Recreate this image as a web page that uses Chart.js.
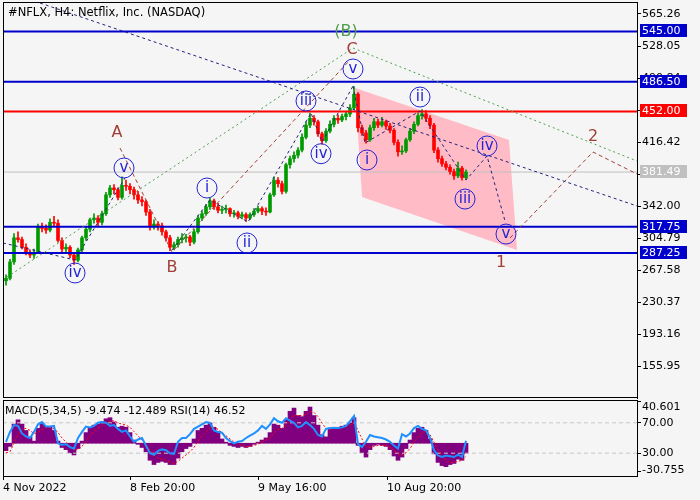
<!DOCTYPE html>
<html>
<head>
<meta charset="utf-8">
<script src="https://cdn.jsdelivr.net/npm/chart.js@4.4.0/dist/chart.umd.min.js"></script>
<style>
  body { margin: 0; background: #F5F5F5; }
  #wrap { position: relative; width: 700px; height: 500px; background: #F5F5F5; }
  canvas { position: absolute; left: 0; }
</style>
</head>
<body>
<div id="wrap">
  <canvas id="priceChart" width="700" height="400" style="top:0px"></canvas>
  <canvas id="macdChart" width="700" height="100" style="top:400px"></canvas>
</div>
<script>
const opens = [255,258,277,305,303,294,287,285,288,318,316,314,323,322,302,292,294,285,279,291,
  305,315,326,328,323,333,355,363,361,352,366,365,361,355,349,347,335,318,321,319,
  312,305,294,297,303,305,306,300,312,328,333,341,348,341,337,338,339,333,334,330,
  332,328,332,336,339,336,335,355,372,368,359,390,397,401,407,422,436,444,440,426,
  418,429,437,444,442,446,449,456,472,433,427,419,433,440,436,440,435,430,416,405,
  406,419,429,437,447,449,444,436,407,397,391,387,382,377,386,375];
const highs = [262,280,310,312,306,298,291,292,321,322,320,327,330,326,305,298,296,288,293,307,
  318,328,333,331,336,358,366,367,363,376,372,368,364,359,353,349,338,326,324,322,
  314,308,300,306,310,309,308,315,331,336,344,351,350,345,342,343,340,337,336,335,
  334,334,339,342,341,340,357,376,375,371,392,400,405,410,426,440,450,447,442,428,
  432,441,447,448,449,452,460,481,474,436,430,436,444,443,445,442,438,432,419,412,
  421,432,440,450,454,453,447,438,410,400,394,390,385,393,388,384];
const lows = [250,256,274,300,292,285,282,281,287,312,310,312,318,300,289,288,282,274,277,288,
  302,312,322,319,320,331,352,356,349,350,360,356,350,345,342,331,314,315,314,308,
  301,290,291,294,299,300,296,298,310,325,331,338,338,334,333,334,330,329,327,327,
  324,326,330,334,332,331,334,353,364,356,357,386,393,398,405,420,433,436,423,414,
  416,427,434,438,440,442,446,454,428,424,415,417,430,433,434,431,427,413,400,402,
  404,417,426,435,443,440,432,404,393,388,384,379,373,375,372,373];
const closes = [258,277,305,303,294,287,285,288,318,316,314,323,322,302,292,294,285,279,291,305,
  315,326,328,323,333,355,363,361,352,366,365,361,355,349,347,335,318,321,319,312,
  305,294,297,303,305,306,300,312,328,333,341,348,341,337,338,339,333,334,330,332,
  328,332,336,339,336,335,355,372,368,359,390,397,401,407,422,436,444,440,426,418,
  429,437,444,442,446,449,456,472,433,427,419,433,440,436,440,435,430,416,405,406,
  419,429,437,447,449,444,436,407,397,391,387,382,377,386,375,381.49];

// indicator window: MACD(5,34,5) main + signal, RSI(14)
const macdMain = [-7,-3,18,22,18,12,6,2,14,19,16,15,12,2,-4,-6,-9,-11,-5,2,
  10,15,17,18,20,23,24,20,15,16,15,10,3,-1,-4,-8,-16,-20,-18,-17,
  -18,-20,-20,-14,-8,-5,-3,4,12,14,17,19,15,11,4,1,-2,-3,-4,-3,
  -4,-3,-1,1,3,5,10,18,17,14,22,30,33,26,25,30,34,26,17,8,
  6,13,15,15,16,17,19,24,-2,-9,-13,-6,-2,-1,-2,-3,-6,-12,-16,-13,
  -5,3,10,14,15,12,4,-10,-18,-21,-22,-20,-19,-15,-16,-9.474];
const macdSignal = [-9,-8,0,8,13,14,12,9,10,13,15,15,14,10,5,1,-3,-6,-6,-3,
  2,7,11,14,16,19,21,21,19,18,17,15,11,7,3,-1,-6,-11,-14,-15,
  -16,-18,-19,-17,-14,-11,-8,-4,2,7,11,14,15,13,10,7,4,1,-1,-2,
  -3,-3,-2,-1,1,3,5,10,13,14,17,22,26,26,26,27,30,29,25,19,
  14,13,14,14,15,16,17,20,12,4,-3,-4,-3,-2,-2,-2,-4,-7,-10,-11,
  -9,-5,1,6,10,11,8,1,-6,-12,-16,-18,-18,-17,-16,-12.489];
const rsiValues = [45,58,67,66,56,52,50,58,68,71,65,65,66,43,41,42,38,36,50,58,
  65,64,66,70,71,70,66,67,62,58,60,52,45,48,50,40,30,28,33,35,
  34,30,29,45,50,50,55,62,65,68,71,70,60,58,57,50,46,43,45,46,
  50,53,56,60,66,62,68,76,72,70,76,73,70,64,66,71,67,62,54,52,
  62,63,63,63,64,66,72,79,42,38,45,54,52,51,50,48,45,40,36,55,
  52,56,63,66,62,60,50,34,27,25,27,26,25,28,25,46.52];

// right axis
const priceTicks = [565.26, 528.05, 490.84, 453.63, 416.42, 379.21, 342.00, 304.79, 267.58, 230.37, 193.16, 155.95];
const supportLevels = [545.00, 486.50, 317.75, 287.25];
const resistanceLevel = 452.00;
const bidPrice = 381.49;
const macdTopTick = 40.601;
const macdBottomTick = -30.755;
const rsiTicks = [70, 30];

// time axis (bar numbers)
const dateTicks = [-0.75, 31, 63, 95.25];
const dateLabels = ["4 Nov 2022", "8 Feb 20:00", "9 May 16:00", "10 Aug 20:00"];

// drawn objects, points as [bar, price]
const trendNavy = [[8.5, 578.05], [157.75, 342.0]];
const trendGreen = [[0.25, 259.4], [86.75, 525.7], [157.75, 394.3]];
const waveABC = [[28.5, 409.4], [41.5, 288.5], [86, 511.8]];
const waveImpulse1 = [[-0.75, 299.0], [17.25, 279.2], [29.75, 374.6]];
const waveImpulse2 = [[41.5, 290.8], [51, 349.0], [60.5, 323.4], [76.25, 450.1], [79, 416.4], [86.75, 481.5]];
const waveDecline = [[86.75, 481.5], [89.75, 415.2], [103.5, 452.5], [115, 372.2], [120.25, 400.1], [124.75, 324.6]];
const waveForecast = [[126, 304.8], [146.75, 404.8], [157.75, 379.2]];
const channel = [[87.25, 479.2], [125.75, 418.7], [127.75, 290.8], [89, 352.5]];

const circleLabels = ["iv", "v", "i", "ii", "iii", "iv", "v", "i", "ii", "iii", "iv", "v"];
const circleBars = [17.25, 29.5, 50.25, 60.25, 75, 78.75, 86.75, 90.25, 103.5, 114.75, 120.25, 125];
const circlePrices = [264.1, 386.2, 362.9, 299.0, 464.1, 402.8, 501.3, 395.5, 468.7, 350.1, 411.8, 309.4];
const letterLabels = ["A", "B", "C", "1", "2"];
const letterBars = [27.75, 41.5, 86.5, 123.75, 146.75];
const letterPrices = [426.9, 269.9, 523.4, 275.7, 422.2];
const degreeLabel = "(B)";
const degreeBar = 85;
const degreePrice = 544.3;

const X_MIN = -0.75, X_MAX = 157.75;
const FONT = "DejaVu Sans";
const BLUE = "#0000CD", RED = "#FF0000", NAVY = "#23237A", BROWN = "#A04038", GREEN = "#4E9E4E";
const BULL = "#009A00", BEAR = "#FF0000";

Chart.defaults.font.family = FONT;
Chart.defaults.font.size = 11;
Chart.defaults.color = "#000";

function toPoints(list) {
  return list.map(p => ({ x: p[0], y: p[1] }));
}

function polyline(list, color, dash, width) {
  return {
    type: "line", data: toPoints(list), borderColor: color, borderWidth: width || 1,
    borderDash: dash, pointRadius: 0, fill: false, tension: 0, order: 2
  };
}

function hLine(price, color, width, order) {
  return {
    type: "line", data: [{ x: X_MIN, y: price }, { x: X_MAX, y: price }],
    borderColor: color, borderWidth: width, pointRadius: 0, fill: false, order: order
  };
}

// no extra room for the first and last labels
function noPadding(s) {
  s.paddingTop = 0; s.paddingBottom = 0; s.paddingLeft = 0; s.paddingRight = 0;
}

const candleColors = closes.map((c, i) => c >= opens[i] ? BULL : BEAR);

const priceDatasets = [
  polyline(trendNavy, NAVY, [3, 3]),
  polyline(trendGreen, GREEN, [2, 3]),
  polyline(waveABC, BROWN, [4, 3]),
  polyline(waveImpulse1, NAVY, [3, 3]),
  polyline(waveImpulse2, NAVY, [3, 3]),
  polyline(waveDecline, NAVY, [3, 3]),
  polyline(waveForecast, BROWN, [4, 3]),
  hLine(resistanceLevel, RED, 2, 3),
  hLine(bidPrice, "#C0C0C0", 1, 6),
  {
    type: "bar", grouped: false, order: 5, barThickness: 3,
    data: closes.map((c, i) => ({ x: i, y: [opens[i], c] })),
    backgroundColor: candleColors
  },
  {
    type: "bar", grouped: false, order: 5, barThickness: 1,
    data: closes.map((c, i) => ({ x: i, y: [lows[i], highs[i]] })),
    backgroundColor: candleColors
  }
];
supportLevels.forEach(p => priceDatasets.push(hLine(p, BLUE, 2, 3)));

const pricePlugin = {
  id: "pricePlugin",
  beforeDatasetsDraw(chart) {
    const { ctx, scales: { x, y } } = chart;
    ctx.save();
    ctx.beginPath();
    channel.forEach((p, i) => {
      const px = x.getPixelForValue(p[0]), py = y.getPixelForValue(p[1]);
      if (i === 0) ctx.moveTo(px, py); else ctx.lineTo(px, py);
    });
    ctx.closePath();
    ctx.fillStyle = "#FFBBC6";
    ctx.fill();
    ctx.restore();
  },
  afterDatasetsDraw(chart) {
    const { ctx, scales: { x, y } } = chart;
    ctx.save();
    ctx.textAlign = "center";
    ctx.textBaseline = "middle";
    // circled sub-waves
    circleLabels.forEach((t, i) => {
      const px = x.getPixelForValue(circleBars[i]), py = y.getPixelForValue(circlePrices[i]);
      ctx.beginPath();
      ctx.arc(px, py, 10, 0, Math.PI * 2);
      ctx.strokeStyle = "#2424D4";
      ctx.lineWidth = 1;
      ctx.stroke();
      ctx.fillStyle = "#2424D4";
      ctx.font = "15px " + FONT;
      ctx.fillText(t, px, py);
    });
    ctx.font = "16px " + FONT;
    ctx.fillStyle = BROWN;
    letterLabels.forEach((t, i) => {
      ctx.fillText(t, x.getPixelForValue(letterBars[i]), y.getPixelForValue(letterPrices[i]));
    });
    ctx.fillStyle = GREEN;
    ctx.fillText(degreeLabel, x.getPixelForValue(degreeBar), y.getPixelForValue(degreePrice));
    ctx.restore();
  },
  afterDraw(chart) {
    const { ctx, chartArea: a, scales: { y } } = chart;
    ctx.save();
    ctx.strokeStyle = "#000";
    ctx.lineWidth = 1;
    ctx.strokeRect(a.left + 0.5, a.top - 0.5, a.right - a.left, a.bottom - a.top);
    ctx.font = "11px " + FONT;
    ctx.textAlign = "left";
    ctx.textBaseline = "middle";
    const boxes = supportLevels.map(p => [p, BLUE]).concat([[resistanceLevel, RED], [bidPrice, "#C0C0C0"]]);
    boxes.forEach(b => {
      const py = Math.round(y.getPixelForValue(b[0]));
      ctx.fillStyle = b[1];
      ctx.fillRect(a.right + 3, py - 7, 47, 13);
      ctx.fillStyle = "#fff";
      ctx.fillText(b[0].toFixed(2), a.right + 5, py);
    });
    ctx.fillStyle = "#000";
    ctx.font = "11.5px " + FONT;
    ctx.fillText("#NFLX, H4: Netflix, Inc. (NASDAQ)", 8, 13);
    ctx.restore();
  }
};

new Chart(document.getElementById("priceChart"), {
  type: "line",
  data: { datasets: priceDatasets },
  options: {
    responsive: false, animation: false, devicePixelRatio: 1,
    layout: { padding: { left: 3, top: 3, right: 0, bottom: 2 } },
    plugins: { legend: { display: false }, tooltip: { enabled: false } },
    scales: {
      x: { type: "linear", min: X_MIN, max: X_MAX, display: false, offset: false },
      y: {
        position: "right", min: 118.75, max: 578.05,
        afterBuildTicks: s => { s.ticks = priceTicks.map(v => ({ value: v })); },
        afterFit: s => { s.width = 63; noPadding(s); },
        ticks: { padding: 1, callback: v => v.toFixed(2) },
        grid: { drawOnChartArea: false, drawTicks: true, tickLength: 4, color: "#000" },
        border: { display: true, color: "#000" }
      }
    }
  },
  plugins: [pricePlugin]
});

// ---- indicator window ----
const macdPlugin = {
  id: "macdPlugin",
  afterDraw(chart) {
    const { ctx, chartArea: a, scales: { yMacd } } = chart;
    ctx.save();
    ctx.strokeStyle = "#000";
    ctx.lineWidth = 1;
    ctx.strokeRect(a.left + 0.5, a.top + 0.5, a.right - a.left, a.bottom - a.top);
    ctx.font = "11px " + FONT;
    ctx.fillStyle = "#000";
    ctx.textAlign = "left";
    ctx.textBaseline = "middle";
    ctx.fillText("MACD(5,34,5) -9.474 -12.489 RSI(14) 46.52", 5, 11);
    // MACD scale range labels, top one hangs below its tick, bottom one sits above it
    const yTop = Math.round(yMacd.getPixelForValue(macdTopTick)) + 1;
    const yBot = Math.round(yMacd.getPixelForValue(macdBottomTick)) - 5;
    ctx.beginPath();
    ctx.moveTo(a.right, yTop + 0.5); ctx.lineTo(a.right + 4, yTop + 0.5);
    ctx.moveTo(a.right, yBot + 0.5); ctx.lineTo(a.right + 4, yBot + 0.5);
    ctx.stroke();
    ctx.textBaseline = "top";
    ctx.fillText(macdTopTick.toFixed(3), a.right + 5, yTop + 1);
    ctx.textBaseline = "middle";
    ctx.fillText(macdBottomTick.toFixed(3), a.right + 5, yBot - 1);
    ctx.restore();
  }
};

new Chart(document.getElementById("macdChart"), {
  type: "line",
  data: {
    datasets: [
      {
        type: "line", yAxisID: "yRsi", order: 1,
        data: rsiValues.map((v, i) => ({ x: i, y: v })),
        borderColor: "#1E90FF", borderWidth: 2, pointRadius: 0, tension: 0
      },
      {
        type: "line", yAxisID: "yMacd", order: 2,
        data: macdSignal.map((v, i) => ({ x: i, y: v })),
        borderColor: "#FF0000", borderWidth: 1, borderDash: [2, 2], pointRadius: 0, tension: 0
      },
      {
        type: "line", yAxisID: "yRsi", order: 4,
        data: [{ x: X_MIN, y: rsiTicks[0] }, { x: X_MAX, y: rsiTicks[0] }],
        borderColor: "#C8C8C8", borderWidth: 1, borderDash: [4, 3], pointRadius: 0
      },
      {
        type: "line", yAxisID: "yRsi", order: 4,
        data: [{ x: X_MIN, y: rsiTicks[1] }, { x: X_MAX, y: rsiTicks[1] }],
        borderColor: "#C8C8C8", borderWidth: 1, borderDash: [4, 3], pointRadius: 0
      },
      {
        type: "bar", yAxisID: "yMacd", order: 5, grouped: false, barThickness: 4,
        data: macdMain.map((v, i) => ({ x: i, y: v })),
        backgroundColor: "#800080"
      }
    ]
  },
  options: {
    responsive: false, animation: false, devicePixelRatio: 1,
    layout: { padding: { left: 3, top: 0, right: 0, bottom: 0 } },
    plugins: { legend: { display: false }, tooltip: { enabled: false } },
    scales: {
      x: {
        type: "linear", min: X_MIN, max: X_MAX, offset: false,
        afterBuildTicks: s => { s.ticks = dateTicks.map(v => ({ value: v })); },
        afterFit: s => { s.height = 24; noPadding(s); },
        ticks: { align: "start", padding: 2, maxRotation: 0, autoSkip: false, callback: (v, i) => dateLabels[i] },
        grid: { drawOnChartArea: false, drawTicks: true, tickLength: 4, color: "#000", offset: false },
        border: { display: true, color: "#000" }
      },
      yMacd: { position: "right", display: false, min: macdBottomTick, max: macdTopTick },
      yRsi: {
        position: "right", min: 0, max: 100,
        afterBuildTicks: s => { s.ticks = rsiTicks.map(v => ({ value: v })); },
        afterFit: s => { s.width = 63; noPadding(s); },
        ticks: { padding: 1, callback: v => v.toFixed(2) },
        grid: { drawOnChartArea: false, drawTicks: true, tickLength: 4, color: "#000" },
        border: { display: true, color: "#000" }
      }
    }
  },
  plugins: [macdPlugin]
});
</script>
</body>
</html>
